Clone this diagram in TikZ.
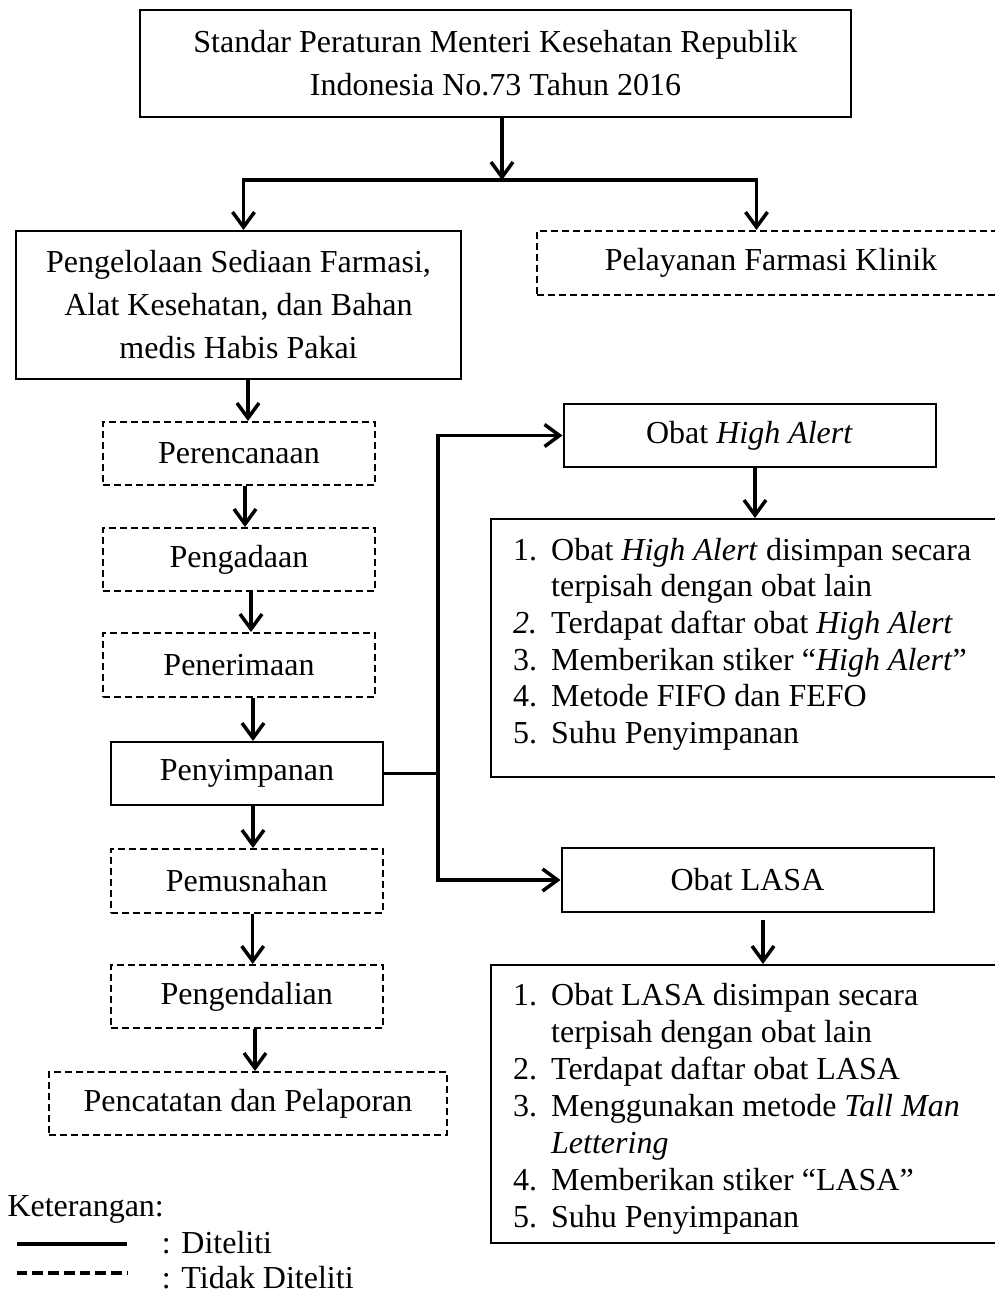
\documentclass[tikz,border=0pt]{standalone}
\usepackage{fontspec}
\setmainfont{Liberation Serif}
\usetikzlibrary{arrows.meta,calc}
\begin{document}
\begin{tikzpicture}[x=1pt,y=-1pt,
  box/.style={draw,line width=2pt,inner sep=0pt,align=center,font=\fontsize{32}{43}\selectfont},
  dbox/.style={box,dash pattern=on 7pt off 4pt},
  conn/.style={line width=3.5pt},
  arr/.style={conn,-{Straight Barb[length=15pt,width=22pt]}},
  txt/.style={inner sep=0pt,font=\fontsize{32}{37}\selectfont},
]
\useasboundingbox (0,0) rectangle (995,1293);
\clip (0,0) rectangle (995,1293);

% top
\node[box,minimum width=711pt,minimum height=107pt] (top) at (495.5,63.5)
  {Standar Peraturan Menteri Kesehatan Republik\\Indonesia No.73 Tahun 2016};
\node[box,minimum width=445pt,minimum height=148pt] (peng) at (238.5,305)
  {Pengelolaan Sediaan Farmasi,\\Alat Kesehatan, dan Bahan\\medis Habis Pakai};
\node[dbox,minimum width=468pt,minimum height=64pt] (pel) at (771,263)
  {Pelayanan Farmasi Klinik};

% left chain
\node[dbox,minimum width=272pt,minimum height=63pt] (per) at (239,453.5) {Perencanaan};
\node[dbox,minimum width=272pt,minimum height=63pt] (pgd) at (239,559.5) {Pengadaan};
\node[dbox,minimum width=272pt,minimum height=64pt] (pnr) at (239,665) {Penerimaan};
\node[box,minimum width=272pt,minimum height=63pt] (pys) at (247,773.5) {Penyimpanan};
\node[dbox,minimum width=272pt,minimum height=64pt] (pms) at (246.7,881) {Pemusnahan};
\node[dbox,minimum width=272pt,minimum height=63pt] (pgn) at (246.7,996.5) {Pengendalian};
\node[dbox,minimum width=398pt,minimum height=63pt] (pct) at (248,1103.5) {Pencatatan dan Pelaporan};

% right side
\node[box,minimum width=372pt,minimum height=63pt] (ha) at (749.5,435.5) {Obat \textit{High Alert}};
\node[box,minimum width=372pt,minimum height=64pt] (lasa) at (747.5,880) {Obat LASA};
\node[box,minimum width=519pt,minimum height=257.7pt] (halist) at (750.5,647.85) {};
\node[box,minimum width=519pt,minimum height=278pt] (lasalist) at (750.5,1104) {};

\node[txt,anchor=north west,font=\fontsize{32}{36.7}\selectfont] (hatext) at (513,534.3)
{\begin{tabular}{@{}p{38pt}@{}l@{}}
1. & Obat \textit{High Alert} disimpan secara\\
   & terpisah dengan obat lain\\
\textit{2.} & Terdapat daftar obat \textit{High Alert}\\
3. & Memberikan stiker “\textit{High Alert}”\\
4. & Metode FIFO dan FEFO\\
5. & Suhu Penyimpanan
\end{tabular}};

\node[txt,anchor=north west] (lasatext) at (513,979.1)
{\begin{tabular}{@{}p{38pt}@{}l@{}}
1. & Obat LASA disimpan secara\\
   & terpisah dengan obat lain\\
2. & Terdapat daftar obat LASA\\
3. & Menggunakan metode \textit{Tall Man}\\
   & \textit{Lettering}\\
4. & Memberikan stiker “LASA”\\
5. & Suhu Penyimpanan
\end{tabular}};

% connectors top
\coordinate (jtop) at (502,180);
\coordinate (jl) at (243.5,180);
\coordinate (jr) at (756.5,180);
\draw[arr] (top.south -| jtop) -- (jtop);
\draw[conn,line cap=rect] (jl) -- (jr);
\draw[arr] (jl) -- (peng.north -| jl);
\draw[arr] (jr) -- (pel.north -| jr);

% left chain connectors
\draw[arr] ([xshift=9.5pt]peng.south) -- ([xshift=9pt]per.north);
\draw[arr] ([xshift=6pt]per.south) -- ([xshift=6pt]pgd.north);
\draw[arr] ([xshift=12pt]pgd.south) -- ([xshift=12pt]pnr.north);
\draw[arr] ([xshift=14pt]pnr.south) -- ([xshift=6pt]pys.north);
\draw[arr] ([xshift=6pt]pys.south) -- ([xshift=6.3pt]pms.north);
\draw[arr] ([xshift=6pt]pms.south) -- ([xshift=6pt]pgn.north);
\draw[arr] ([xshift=8.3pt]pgn.south) -- ([xshift=7pt]pct.north);

% branch
\coordinate (jx) at (438,776.7);
\draw[conn] (pys.east) -- (pys.east -| jx);
\draw[arr] (pys.east -| jx) |- (ha.west);
\draw[arr] (pys.east -| jx) |- (lasa.west);
\draw[arr] ([xshift=5.5pt]ha.south) -- ([xshift=5.5pt]ha.south |- halist.north);
\draw[arr,shorten <=7pt] ([xshift=15.5pt]lasa.south) -- ([xshift=15.5pt]lasa.south |- lasalist.north);

% legend
\node[txt,anchor=base west] (ket) at (7.3,1216.7) {Keterangan:};
\coordinate (la1) at (16.7,1244);
\coordinate (lb1) at (126.7,1244);
\coordinate (la2) at (16.7,1273);
\coordinate (lb2) at (126.7,1273);
\draw[line width=3.3pt] (la1) -- (lb1);
\draw[line width=3.3pt,dash pattern=on 10.7pt off 5pt] (la2) -- (lb2);
\node[txt,anchor=base west] (dit) at (161.7,1253) {: Diteliti};
\node[txt,anchor=base west] (tdit) at (161.7,1288) {: Tidak Diteliti};
\end{tikzpicture}
\end{document}
